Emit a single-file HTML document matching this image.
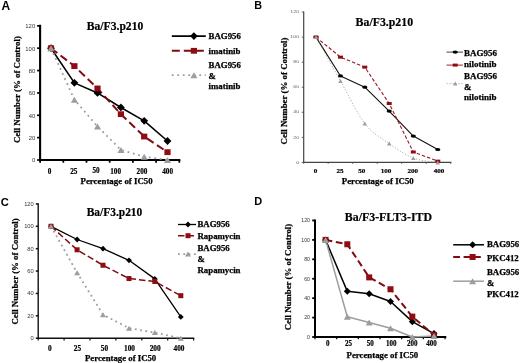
<!DOCTYPE html>
<html><head><meta charset="utf-8"><style>
html,body{margin:0;padding:0;background:#fff;width:520px;height:363px;overflow:hidden}
svg{display:block;filter:blur(0.35px)}
</style></head><body>
<svg width="520" height="363" viewBox="0 0 520 363">
<rect width="520" height="363" fill="#fff"/>
<path d="M40.1 25.84V160H179.3" fill="none" stroke="#000" stroke-width="2.1" stroke-linecap="square"/>
<path d="M37.1 160H40.1" stroke="#000" stroke-width="1.7"/>
<path d="M37.1 137.64H40.1" stroke="#000" stroke-width="1.7"/>
<path d="M37.1 115.28H40.1" stroke="#000" stroke-width="1.7"/>
<path d="M37.1 92.92H40.1" stroke="#000" stroke-width="1.7"/>
<path d="M37.1 70.56H40.1" stroke="#000" stroke-width="1.7"/>
<path d="M37.1 48.2H40.1" stroke="#000" stroke-width="1.7"/>
<path d="M37.1 25.84H40.1" stroke="#000" stroke-width="1.7"/>
<path d="M40.1 160V162.7" stroke="#000" stroke-width="1.8"/>
<path d="M63.3 160V162.7" stroke="#000" stroke-width="1.8"/>
<path d="M86.5 160V162.7" stroke="#000" stroke-width="1.8"/>
<path d="M109.7 160V162.7" stroke="#000" stroke-width="1.8"/>
<path d="M132.9 160V162.7" stroke="#000" stroke-width="1.8"/>
<path d="M156.1 160V162.7" stroke="#000" stroke-width="1.8"/>
<path d="M179.3 160V162.7" stroke="#000" stroke-width="1.8"/>
<text x="35.2" y="162.3" text-anchor="end" font-family="'Liberation Sans', sans-serif" font-size="5.9" fill="#333">0</text>
<text x="35.2" y="139.94" text-anchor="end" font-family="'Liberation Sans', sans-serif" font-size="5.9" fill="#333">20</text>
<text x="35.2" y="117.58" text-anchor="end" font-family="'Liberation Sans', sans-serif" font-size="5.9" fill="#333">40</text>
<text x="35.2" y="95.22" text-anchor="end" font-family="'Liberation Sans', sans-serif" font-size="5.9" fill="#333">60</text>
<text x="35.2" y="72.86" text-anchor="end" font-family="'Liberation Sans', sans-serif" font-size="5.9" fill="#333">80</text>
<text x="35.2" y="50.5" text-anchor="end" font-family="'Liberation Sans', sans-serif" font-size="5.9" fill="#333">100</text>
<text x="35.2" y="28.14" text-anchor="end" font-family="'Liberation Sans', sans-serif" font-size="5.9" fill="#333">120</text>
<text x="49.6" y="173.7" text-anchor="middle" font-family="'Liberation Serif', serif" font-weight="bold" font-size="7.6" stroke="#000" stroke-width="0.2" textLength="3.6" lengthAdjust="spacingAndGlyphs">0</text>
<text x="73.8" y="173.9" text-anchor="middle" font-family="'Liberation Serif', serif" font-weight="bold" font-size="7.6" stroke="#000" stroke-width="0.2" textLength="7.2" lengthAdjust="spacingAndGlyphs">25</text>
<text x="96" y="172.8" text-anchor="middle" font-family="'Liberation Serif', serif" font-weight="bold" font-size="7.6" stroke="#000" stroke-width="0.2" textLength="7.2" lengthAdjust="spacingAndGlyphs">50</text>
<text x="115.6" y="173.7" text-anchor="middle" font-family="'Liberation Serif', serif" font-weight="bold" font-size="7.6" stroke="#000" stroke-width="0.2" textLength="10.8" lengthAdjust="spacingAndGlyphs">100</text>
<text x="142" y="173.7" text-anchor="middle" font-family="'Liberation Serif', serif" font-weight="bold" font-size="7.6" stroke="#000" stroke-width="0.2" textLength="10.8" lengthAdjust="spacingAndGlyphs">200</text>
<text x="167.6" y="173.7" text-anchor="middle" font-family="'Liberation Serif', serif" font-weight="bold" font-size="7.6" stroke="#000" stroke-width="0.2" textLength="10.8" lengthAdjust="spacingAndGlyphs">400</text>
<path d="M51 48.2 L74.4 82.86 L97.5 92.92 L120.9 107.45 L144.2 120.87 L167.5 140.99" fill="none" stroke="#000" stroke-width="1.6" stroke-linecap="butt" stroke-linejoin="round"/>
<path d="M51 48.2 L74.4 66.09 L97.5 88.45 L120.9 114.16 L144.2 136.52 L167.5 152.17" fill="none" stroke="#7e0c12" stroke-width="2" stroke-dasharray="8 4" stroke-linecap="butt" stroke-linejoin="round"/>
<path d="M51 48.2 L74.4 99.63 L97.5 126.46 L120.9 149.94 L144.2 156.65 L167.5 160" fill="none" stroke="#9d9d9d" stroke-width="1.8" stroke-dasharray="1.8 3.7" stroke-linecap="butt" stroke-linejoin="round"/>
<path d="M51 44.3L54.9 48.2L51 52.1L47.1 48.2Z" fill="#000"/>
<path d="M74.4 78.96L78.3 82.86L74.4 86.76L70.5 82.86Z" fill="#000"/>
<path d="M97.5 89.02L101.4 92.92L97.5 96.82L93.6 92.92Z" fill="#000"/>
<path d="M120.9 103.55L124.8 107.45L120.9 111.35L117 107.45Z" fill="#000"/>
<path d="M144.2 116.97L148.1 120.87L144.2 124.77L140.3 120.87Z" fill="#000"/>
<path d="M167.5 137.09L171.4 140.99L167.5 144.89L163.6 140.99Z" fill="#000"/>
<rect x="47.9" y="45.3" width="6.2" height="5.8" fill="#8e0c12"/>
<rect x="71.3" y="63.19" width="6.2" height="5.8" fill="#8e0c12"/>
<rect x="94.4" y="85.55" width="6.2" height="5.8" fill="#8e0c12"/>
<rect x="117.8" y="111.26" width="6.2" height="5.8" fill="#8e0c12"/>
<rect x="141.1" y="133.62" width="6.2" height="5.8" fill="#8e0c12"/>
<rect x="164.4" y="149.27" width="6.2" height="5.8" fill="#8e0c12"/>
<path d="M51 45.2L54.5 51.2L47.5 51.2Z" fill="#9d9d9d"/>
<path d="M74.4 96.63L77.9 102.63L70.9 102.63Z" fill="#9d9d9d"/>
<path d="M97.5 123.46L101 129.46L94 129.46Z" fill="#9d9d9d"/>
<path d="M120.9 146.94L124.4 152.94L117.4 152.94Z" fill="#9d9d9d"/>
<path d="M144.2 153.65L147.7 159.65L140.7 159.65Z" fill="#9d9d9d"/>
<path d="M167.5 157L171 163L164 163Z" fill="#9d9d9d"/>
<text x="86.8" y="30.3" font-family="'Liberation Serif', serif" font-weight="bold" font-size="11.6" stroke="#000" stroke-width="0.2" textLength="56.5" lengthAdjust="spacingAndGlyphs">Ba/F3.p210</text>
<text transform="translate(20.4 89.6) rotate(-90)" x="0" y="0" text-anchor="middle" font-family="'Liberation Serif', serif" font-weight="bold" font-size="8.9" stroke="#000" stroke-width="0.25" textLength="107" lengthAdjust="spacingAndGlyphs">Cell Number (% of Control)</text>
<text x="80.5" y="183.8" font-family="'Liberation Serif', serif" font-weight="bold" font-size="8.9" stroke="#000" stroke-width="0.25" textLength="72.2" lengthAdjust="spacingAndGlyphs">Percentage of IC50</text>
<path d="M171.8 36.1H205.8" stroke="#000" stroke-width="1.6"/>
<path d="M193.9 32.2L197.8 36.1L193.9 40L190 36.1Z" fill="#000"/>
<path d="M171.8 50.8H205.8" stroke="#7e0c12" stroke-width="2" stroke-dasharray="8 4"/>
<rect x="190.8" y="47.9" width="6.2" height="5.8" fill="#8e0c12"/>
<path d="M171.8 75.2H205.8" stroke="#9d9d9d" stroke-width="1.8" stroke-dasharray="1.8 3.7"/>
<path d="M193.9 72.2L197.4 78.2L190.4 78.2Z" fill="#9d9d9d"/>
<text x="208.6" y="39.4" font-family="'Liberation Serif', serif" font-weight="bold" font-size="8.8" stroke="#000" stroke-width="0.25">BAG956</text>
<text x="208.6" y="53.7" font-family="'Liberation Serif', serif" font-weight="bold" font-size="8.8" stroke="#000" stroke-width="0.25">imatinib</text>
<text x="208.6" y="68.3" font-family="'Liberation Serif', serif" font-weight="bold" font-size="8.8" stroke="#000" stroke-width="0.25">BAG956</text>
<text x="208.6" y="78.8" font-family="'Liberation Serif', serif" font-weight="bold" font-size="8.8" stroke="#000" stroke-width="0.25">&amp;</text>
<text x="208.6" y="88.6" font-family="'Liberation Serif', serif" font-weight="bold" font-size="8.8" stroke="#000" stroke-width="0.25">imatinib</text>
<text x="1.6" y="9.6" font-family="'Liberation Sans', sans-serif" font-weight="bold" font-size="12">A</text>
<path d="M303.7 12.04V162.4H450.8" fill="none" stroke="#444" stroke-width="1.2" stroke-linecap="square"/>
<path d="M301.7 162.4H303.7" stroke="#444" stroke-width="0.8"/>
<path d="M301.7 137.34H303.7" stroke="#444" stroke-width="0.8"/>
<path d="M301.7 112.28H303.7" stroke="#444" stroke-width="0.8"/>
<path d="M301.7 87.22H303.7" stroke="#444" stroke-width="0.8"/>
<path d="M301.7 62.16H303.7" stroke="#444" stroke-width="0.8"/>
<path d="M301.7 37.1H303.7" stroke="#444" stroke-width="0.8"/>
<path d="M301.7 12.04H303.7" stroke="#444" stroke-width="0.8"/>
<path d="M303.7 162.4V163.9" stroke="#444" stroke-width="0.8"/>
<path d="M328.2 162.4V163.9" stroke="#444" stroke-width="0.8"/>
<path d="M352.7 162.4V163.9" stroke="#444" stroke-width="0.8"/>
<path d="M377.2 162.4V163.9" stroke="#444" stroke-width="0.8"/>
<path d="M401.7 162.4V163.9" stroke="#444" stroke-width="0.8"/>
<path d="M426.2 162.4V163.9" stroke="#444" stroke-width="0.8"/>
<path d="M450.7 162.4V163.9" stroke="#444" stroke-width="0.8"/>
<text x="299.2" y="163.6" text-anchor="end" font-family="'Liberation Sans', sans-serif" font-size="3.4" fill="#666" textLength="2.95" lengthAdjust="spacingAndGlyphs">0</text>
<text x="299.2" y="138.54" text-anchor="end" font-family="'Liberation Sans', sans-serif" font-size="3.4" fill="#666" textLength="5.9" lengthAdjust="spacingAndGlyphs">20</text>
<text x="299.2" y="113.48" text-anchor="end" font-family="'Liberation Sans', sans-serif" font-size="3.4" fill="#666" textLength="5.9" lengthAdjust="spacingAndGlyphs">40</text>
<text x="299.2" y="88.42" text-anchor="end" font-family="'Liberation Sans', sans-serif" font-size="3.4" fill="#666" textLength="5.9" lengthAdjust="spacingAndGlyphs">60</text>
<text x="299.2" y="63.36" text-anchor="end" font-family="'Liberation Sans', sans-serif" font-size="3.4" fill="#666" textLength="5.9" lengthAdjust="spacingAndGlyphs">80</text>
<text x="299.2" y="38.3" text-anchor="end" font-family="'Liberation Sans', sans-serif" font-size="3.4" fill="#666" textLength="8.85" lengthAdjust="spacingAndGlyphs">100</text>
<text x="299.2" y="13.24" text-anchor="end" font-family="'Liberation Sans', sans-serif" font-size="3.4" fill="#666" textLength="8.85" lengthAdjust="spacingAndGlyphs">120</text>
<text x="315.6" y="172.5" text-anchor="middle" font-family="'Liberation Serif', serif" font-weight="bold" font-size="7.0" stroke="#000" stroke-width="0.2" textLength="3.55" lengthAdjust="spacingAndGlyphs">0</text>
<text x="340" y="172.5" text-anchor="middle" font-family="'Liberation Serif', serif" font-weight="bold" font-size="7.0" stroke="#000" stroke-width="0.2" textLength="7.1" lengthAdjust="spacingAndGlyphs">25</text>
<text x="361.8" y="172.5" text-anchor="middle" font-family="'Liberation Serif', serif" font-weight="bold" font-size="7.0" stroke="#000" stroke-width="0.2" textLength="7.1" lengthAdjust="spacingAndGlyphs">50</text>
<text x="386.1" y="172.5" text-anchor="middle" font-family="'Liberation Serif', serif" font-weight="bold" font-size="7.0" stroke="#000" stroke-width="0.2" textLength="10.65" lengthAdjust="spacingAndGlyphs">100</text>
<text x="412.8" y="172.5" text-anchor="middle" font-family="'Liberation Serif', serif" font-weight="bold" font-size="7.0" stroke="#000" stroke-width="0.2" textLength="10.65" lengthAdjust="spacingAndGlyphs">200</text>
<text x="439.1" y="172.5" text-anchor="middle" font-family="'Liberation Serif', serif" font-weight="bold" font-size="7.0" stroke="#000" stroke-width="0.2" textLength="10.65" lengthAdjust="spacingAndGlyphs">400</text>
<path d="M316 37.1 L340.5 75.94 L364.8 87.22 L389.2 111.03 L413.3 136.09 L437.8 149.49" fill="none" stroke="#111" stroke-width="1.1" stroke-linecap="butt" stroke-linejoin="round"/>
<path d="M316 37.1 L340.5 57.15 L364.8 67.17 L389.2 103.51 L413.3 152 L437.8 161.15" fill="none" stroke="#9a1820" stroke-width="1.1" stroke-dasharray="3.5 2" stroke-linecap="butt" stroke-linejoin="round"/>
<path d="M316 37.1 C320.08 44.41 332.37 66.55 340.5 80.96 C348.63 95.36 356.68 113.12 364.8 123.56 C372.92 134 381.12 137.86 389.2 143.61 C397.28 149.35 405.2 154.88 413.3 158.01 C421.4 161.15 433.72 161.67 437.8 162.4" fill="none" stroke="#9d9d9d" stroke-width="1" stroke-dasharray="1 2" stroke-linecap="butt" stroke-linejoin="round"/>
<ellipse cx="316" cy="37.1" rx="2.6" ry="1.6" fill="#000"/>
<ellipse cx="340.5" cy="75.94" rx="2.6" ry="1.6" fill="#000"/>
<ellipse cx="364.8" cy="87.22" rx="2.6" ry="1.6" fill="#000"/>
<ellipse cx="389.2" cy="111.03" rx="2.6" ry="1.6" fill="#000"/>
<ellipse cx="413.3" cy="136.09" rx="2.6" ry="1.6" fill="#000"/>
<ellipse cx="437.8" cy="149.49" rx="2.6" ry="1.6" fill="#000"/>
<rect x="313.5" y="35.6" width="5" height="3" fill="#8e0c12"/>
<rect x="338" y="55.65" width="5" height="3" fill="#8e0c12"/>
<rect x="362.3" y="65.67" width="5" height="3" fill="#8e0c12"/>
<rect x="386.7" y="102.01" width="5" height="3" fill="#8e0c12"/>
<rect x="410.8" y="150.5" width="5" height="3" fill="#8e0c12"/>
<rect x="435.3" y="159.65" width="5" height="3" fill="#8e0c12"/>
<path d="M316 35.1L318.25 39.1L313.75 39.1Z" fill="#9d9d9d"/>
<path d="M340.5 78.96L342.75 82.96L338.25 82.96Z" fill="#9d9d9d"/>
<path d="M364.8 121.56L367.05 125.56L362.55 125.56Z" fill="#9d9d9d"/>
<path d="M389.2 141.61L391.45 145.61L386.95 145.61Z" fill="#9d9d9d"/>
<path d="M413.3 156.01L415.55 160.01L411.05 160.01Z" fill="#9d9d9d"/>
<path d="M437.8 160.4L440.05 164.4L435.55 164.4Z" fill="#9d9d9d"/>
<text x="355.6" y="26" font-family="'Liberation Serif', serif" font-weight="bold" font-size="12.2" stroke="#000" stroke-width="0.2" textLength="57.5" lengthAdjust="spacingAndGlyphs">Ba/F3.p210</text>
<text transform="translate(286.9 91) rotate(-90)" x="0" y="0" text-anchor="middle" font-family="'Liberation Serif', serif" font-weight="bold" font-size="8.9" stroke="#000" stroke-width="0.25" textLength="107" lengthAdjust="spacingAndGlyphs">Cell Number (% of Control)</text>
<text x="341.8" y="183.8" font-family="'Liberation Serif', serif" font-weight="bold" font-size="8.9" stroke="#000" stroke-width="0.25" textLength="72" lengthAdjust="spacingAndGlyphs">Percentage of IC50</text>
<path d="M446.5 52.1H463" stroke="#444" stroke-width="1"/>
<ellipse cx="455.2" cy="52.1" rx="2.6" ry="1.6" fill="#000"/>
<path d="M446.5 65.1H463" stroke="#a02030" stroke-width="1"/>
<rect x="452.7" y="63.6" width="5" height="3" fill="#8e0c12"/>
<path d="M446.5 83.6H463" stroke="#9d9d9d" stroke-width="1" stroke-dasharray="1 2"/>
<path d="M455.2 81.6L457.45 85.6L452.95 85.6Z" fill="#9d9d9d"/>
<text x="464" y="55.8" font-family="'Liberation Serif', serif" font-weight="bold" font-size="9" stroke="#000" stroke-width="0.25">BAG956</text>
<text x="464" y="66.9" font-family="'Liberation Serif', serif" font-weight="bold" font-size="9" stroke="#000" stroke-width="0.25">nilotinib</text>
<text x="464" y="78.9" font-family="'Liberation Serif', serif" font-weight="bold" font-size="9" stroke="#000" stroke-width="0.25">BAG956</text>
<text x="464" y="89.7" font-family="'Liberation Serif', serif" font-weight="bold" font-size="9" stroke="#000" stroke-width="0.25">&amp;</text>
<text x="464" y="99.6" font-family="'Liberation Serif', serif" font-weight="bold" font-size="9" stroke="#000" stroke-width="0.25">nilotinib</text>
<text x="254.2" y="8.5" font-family="'Liberation Sans', sans-serif" font-weight="bold" font-size="10.8">B</text>
<path d="M38.2 203.92V338.2H193.6" fill="none" stroke="#111" stroke-width="1.4" stroke-linecap="square"/>
<path d="M35.8 338.2H38.2" stroke="#111" stroke-width="1.5"/>
<path d="M35.8 315.82H38.2" stroke="#111" stroke-width="1.5"/>
<path d="M35.8 293.44H38.2" stroke="#111" stroke-width="1.5"/>
<path d="M35.8 271.06H38.2" stroke="#111" stroke-width="1.5"/>
<path d="M35.8 248.68H38.2" stroke="#111" stroke-width="1.5"/>
<path d="M35.8 226.3H38.2" stroke="#111" stroke-width="1.5"/>
<path d="M35.8 203.92H38.2" stroke="#111" stroke-width="1.5"/>
<path d="M38.2 338.2V340.4" stroke="#111" stroke-width="1.2"/>
<path d="M64.1 338.2V340.4" stroke="#111" stroke-width="1.2"/>
<path d="M90 338.2V340.4" stroke="#111" stroke-width="1.2"/>
<path d="M115.9 338.2V340.4" stroke="#111" stroke-width="1.2"/>
<path d="M141.8 338.2V340.4" stroke="#111" stroke-width="1.2"/>
<path d="M167.7 338.2V340.4" stroke="#111" stroke-width="1.2"/>
<path d="M193.6 338.2V340.4" stroke="#111" stroke-width="1.2"/>
<text x="33.7" y="340.2" text-anchor="end" font-family="'Liberation Sans', sans-serif" font-size="5.7" fill="#333">0</text>
<text x="33.7" y="317.82" text-anchor="end" font-family="'Liberation Sans', sans-serif" font-size="5.7" fill="#333">20</text>
<text x="33.7" y="295.44" text-anchor="end" font-family="'Liberation Sans', sans-serif" font-size="5.7" fill="#333">40</text>
<text x="33.7" y="273.06" text-anchor="end" font-family="'Liberation Sans', sans-serif" font-size="5.7" fill="#333">60</text>
<text x="33.7" y="250.68" text-anchor="end" font-family="'Liberation Sans', sans-serif" font-size="5.7" fill="#333">80</text>
<text x="33.7" y="228.3" text-anchor="end" font-family="'Liberation Sans', sans-serif" font-size="5.7" fill="#333">100</text>
<text x="33.7" y="205.92" text-anchor="end" font-family="'Liberation Sans', sans-serif" font-size="5.7" fill="#333">120</text>
<text x="49.8" y="350.6" text-anchor="middle" font-family="'Liberation Serif', serif" font-weight="bold" font-size="7.2" stroke="#000" stroke-width="0.2" textLength="3.65" lengthAdjust="spacingAndGlyphs">0</text>
<text x="77.5" y="350.6" text-anchor="middle" font-family="'Liberation Serif', serif" font-weight="bold" font-size="7.2" stroke="#000" stroke-width="0.2" textLength="7.3" lengthAdjust="spacingAndGlyphs">25</text>
<text x="104.5" y="350.6" text-anchor="middle" font-family="'Liberation Serif', serif" font-weight="bold" font-size="7.2" stroke="#000" stroke-width="0.2" textLength="7.3" lengthAdjust="spacingAndGlyphs">50</text>
<text x="129.5" y="350.6" text-anchor="middle" font-family="'Liberation Serif', serif" font-weight="bold" font-size="7.2" stroke="#000" stroke-width="0.2" textLength="10.95" lengthAdjust="spacingAndGlyphs">100</text>
<text x="155.2" y="350.6" text-anchor="middle" font-family="'Liberation Serif', serif" font-weight="bold" font-size="7.2" stroke="#000" stroke-width="0.2" textLength="10.95" lengthAdjust="spacingAndGlyphs">200</text>
<text x="179" y="350.6" text-anchor="middle" font-family="'Liberation Serif', serif" font-weight="bold" font-size="7.2" stroke="#000" stroke-width="0.2" textLength="10.95" lengthAdjust="spacingAndGlyphs">400</text>
<path d="M51 226.3 L77.1 239.5 L103 248.68 L129 260.32 L154.8 278.89 L180.8 316.94" fill="none" stroke="#000" stroke-width="1.3" stroke-linecap="butt" stroke-linejoin="round"/>
<path d="M51 226.3 L77.1 249.8 L103 265.24 L129 278.56 L154.8 281.47 L180.8 295.68" fill="none" stroke="#7e0c12" stroke-width="1.5" stroke-dasharray="6.5 3" stroke-linecap="butt" stroke-linejoin="round"/>
<path d="M51 226.3 L77.1 272.74 L103 314.7 L129 328.13 L154.8 332.6 L180.8 338.2" fill="none" stroke="#9d9d9d" stroke-width="1.8" stroke-dasharray="1.8 3.5" stroke-linecap="butt" stroke-linejoin="round"/>
<path d="M51 223.4L53.9 226.3L51 229.2L48.1 226.3Z" fill="#000"/>
<path d="M77.1 236.6L80 239.5L77.1 242.4L74.2 239.5Z" fill="#000"/>
<path d="M103 245.78L105.9 248.68L103 251.58L100.1 248.68Z" fill="#000"/>
<path d="M129 257.42L131.9 260.32L129 263.22L126.1 260.32Z" fill="#000"/>
<path d="M154.8 275.99L157.7 278.89L154.8 281.79L151.9 278.89Z" fill="#000"/>
<path d="M180.8 314.04L183.7 316.94L180.8 319.84L177.9 316.94Z" fill="#000"/>
<rect x="48.5" y="223.8" width="5" height="5" fill="#8e0c12"/>
<rect x="74.6" y="247.3" width="5" height="5" fill="#8e0c12"/>
<rect x="100.5" y="262.74" width="5" height="5" fill="#8e0c12"/>
<rect x="126.5" y="276.06" width="5" height="5" fill="#8e0c12"/>
<rect x="152.3" y="278.97" width="5" height="5" fill="#8e0c12"/>
<rect x="178.3" y="293.18" width="5" height="5" fill="#8e0c12"/>
<path d="M51 223.8L54 228.8L48 228.8Z" fill="#9d9d9d"/>
<path d="M77.1 270.24L80.1 275.24L74.1 275.24Z" fill="#9d9d9d"/>
<path d="M103 312.2L106 317.2L100 317.2Z" fill="#9d9d9d"/>
<path d="M129 325.63L132 330.63L126 330.63Z" fill="#9d9d9d"/>
<path d="M154.8 330.1L157.8 335.1L151.8 335.1Z" fill="#9d9d9d"/>
<path d="M180.8 335.7L183.8 340.7L177.8 340.7Z" fill="#9d9d9d"/>
<text x="86.7" y="215.8" font-family="'Liberation Serif', serif" font-weight="bold" font-size="11.8" stroke="#000" stroke-width="0.2" textLength="55.6" lengthAdjust="spacingAndGlyphs">Ba/F3.p210</text>
<text transform="translate(18.3 271.4) rotate(-90)" x="0" y="0" text-anchor="middle" font-family="'Liberation Serif', serif" font-weight="bold" font-size="8.9" stroke="#000" stroke-width="0.25" textLength="106.3" lengthAdjust="spacingAndGlyphs">Cell Number (% of Control)</text>
<text x="85" y="361" font-family="'Liberation Serif', serif" font-weight="bold" font-size="9" stroke="#000" stroke-width="0.25" textLength="71.2" lengthAdjust="spacingAndGlyphs">Percentage of IC50</text>
<path d="M178 224.5H196" stroke="#000" stroke-width="1.3"/>
<path d="M188 221.6L190.9 224.5L188 227.4L185.1 224.5Z" fill="#000"/>
<path d="M178 235.7H196" stroke="#7e0c12" stroke-width="1.5" stroke-dasharray="6.5 3"/>
<rect x="185.5" y="233.2" width="5" height="5" fill="#8e0c12"/>
<path d="M178 254.1H196" stroke="#9d9d9d" stroke-width="1.8" stroke-dasharray="1.8 3.5"/>
<path d="M188 251.6L191 256.6L185 256.6Z" fill="#9d9d9d"/>
<text x="197.5" y="227.4" font-family="'Liberation Serif', serif" font-weight="bold" font-size="8.8" stroke="#000" stroke-width="0.25">BAG956</text>
<text x="197.5" y="239.1" font-family="'Liberation Serif', serif" font-weight="bold" font-size="8.8" stroke="#000" stroke-width="0.25">Rapamycin</text>
<text x="197.5" y="251.1" font-family="'Liberation Serif', serif" font-weight="bold" font-size="8.8" stroke="#000" stroke-width="0.25">BAG956</text>
<text x="197.5" y="262.1" font-family="'Liberation Serif', serif" font-weight="bold" font-size="8.8" stroke="#000" stroke-width="0.25">&amp;</text>
<text x="197.5" y="272.7" font-family="'Liberation Serif', serif" font-weight="bold" font-size="8.8" stroke="#000" stroke-width="0.25">Rapamycin</text>
<text x="0.8" y="205.6" font-family="'Liberation Sans', sans-serif" font-weight="bold" font-size="11.2">C</text>
<path d="M315 220.48V337H445.3" fill="none" stroke="#000" stroke-width="2" stroke-linecap="square"/>
<path d="M312.2 337H315" stroke="#000" stroke-width="1.8"/>
<path d="M312.2 317.58H315" stroke="#000" stroke-width="1.8"/>
<path d="M312.2 298.16H315" stroke="#000" stroke-width="1.8"/>
<path d="M312.2 278.74H315" stroke="#000" stroke-width="1.8"/>
<path d="M312.2 259.32H315" stroke="#000" stroke-width="1.8"/>
<path d="M312.2 239.9H315" stroke="#000" stroke-width="1.8"/>
<path d="M312.2 220.48H315" stroke="#000" stroke-width="1.8"/>
<path d="M315 337V339.2" stroke="#000" stroke-width="1.2"/>
<path d="M336.67 337V339.2" stroke="#000" stroke-width="1.2"/>
<path d="M358.34 337V339.2" stroke="#000" stroke-width="1.2"/>
<path d="M380.01 337V339.2" stroke="#000" stroke-width="1.2"/>
<path d="M401.68 337V339.2" stroke="#000" stroke-width="1.2"/>
<path d="M423.35 337V339.2" stroke="#000" stroke-width="1.2"/>
<path d="M445.02 337V339.2" stroke="#000" stroke-width="1.2"/>
<text x="310" y="338.9" text-anchor="end" font-family="'Liberation Sans', sans-serif" font-size="5.2" fill="#333">0</text>
<text x="310" y="319.48" text-anchor="end" font-family="'Liberation Sans', sans-serif" font-size="5.2" fill="#333">20</text>
<text x="310" y="300.06" text-anchor="end" font-family="'Liberation Sans', sans-serif" font-size="5.2" fill="#333">40</text>
<text x="310" y="280.64" text-anchor="end" font-family="'Liberation Sans', sans-serif" font-size="5.2" fill="#333">60</text>
<text x="310" y="261.22" text-anchor="end" font-family="'Liberation Sans', sans-serif" font-size="5.2" fill="#333">80</text>
<text x="310" y="241.8" text-anchor="end" font-family="'Liberation Sans', sans-serif" font-size="5.2" fill="#333">100</text>
<text x="310" y="222.38" text-anchor="end" font-family="'Liberation Sans', sans-serif" font-size="5.2" fill="#333">120</text>
<text x="327.8" y="346" text-anchor="middle" font-family="'Liberation Serif', serif" font-weight="bold" font-size="7.2" stroke="#000" stroke-width="0.2" textLength="3.5" lengthAdjust="spacingAndGlyphs">0</text>
<text x="348.4" y="346" text-anchor="middle" font-family="'Liberation Serif', serif" font-weight="bold" font-size="7.2" stroke="#000" stroke-width="0.2" textLength="7" lengthAdjust="spacingAndGlyphs">25</text>
<text x="370.2" y="346" text-anchor="middle" font-family="'Liberation Serif', serif" font-weight="bold" font-size="7.2" stroke="#000" stroke-width="0.2" textLength="7" lengthAdjust="spacingAndGlyphs">50</text>
<text x="391.2" y="346" text-anchor="middle" font-family="'Liberation Serif', serif" font-weight="bold" font-size="7.2" stroke="#000" stroke-width="0.2" textLength="10.5" lengthAdjust="spacingAndGlyphs">100</text>
<text x="412.3" y="346" text-anchor="middle" font-family="'Liberation Serif', serif" font-weight="bold" font-size="7.2" stroke="#000" stroke-width="0.2" textLength="10.5" lengthAdjust="spacingAndGlyphs">200</text>
<text x="431.4" y="346" text-anchor="middle" font-family="'Liberation Serif', serif" font-weight="bold" font-size="7.2" stroke="#000" stroke-width="0.2" textLength="10.5" lengthAdjust="spacingAndGlyphs">400</text>
<path d="M325.6 239.9 L347.3 291.36 L369.2 293.79 L390.5 301.56 L412.3 321.66 L434 333.6" fill="none" stroke="#000" stroke-width="1.5" stroke-linecap="butt" stroke-linejoin="round"/>
<path d="M325.6 239.9 L347.3 244.27 L369.2 277.38 L390.5 289.23 L412.3 316.61 L434 335.06" fill="none" stroke="#7e0c12" stroke-width="2" stroke-dasharray="6.8 3.6" stroke-linecap="butt" stroke-linejoin="round"/>
<path d="M325.6 239.9 L347.3 316.8 L369.2 322.44 L390.5 328.26 L412.3 337 L434 336.03" fill="none" stroke="#9d9d9d" stroke-width="1.5" stroke-linecap="butt" stroke-linejoin="round"/>
<path d="M325.6 236.4L329.1 239.9L325.6 243.4L322.1 239.9Z" fill="#000"/>
<path d="M347.3 287.86L350.8 291.36L347.3 294.86L343.8 291.36Z" fill="#000"/>
<path d="M369.2 290.29L372.7 293.79L369.2 297.29L365.7 293.79Z" fill="#000"/>
<path d="M390.5 298.06L394 301.56L390.5 305.06L387 301.56Z" fill="#000"/>
<path d="M412.3 318.16L415.8 321.66L412.3 325.16L408.8 321.66Z" fill="#000"/>
<path d="M434 330.1L437.5 333.6L434 337.1L430.5 333.6Z" fill="#000"/>
<rect x="322.6" y="236.9" width="6" height="6" fill="#8e0c12"/>
<rect x="344.3" y="241.27" width="6" height="6" fill="#8e0c12"/>
<rect x="366.2" y="274.38" width="6" height="6" fill="#8e0c12"/>
<rect x="387.5" y="286.23" width="6" height="6" fill="#8e0c12"/>
<rect x="409.3" y="313.61" width="6" height="6" fill="#8e0c12"/>
<rect x="431" y="332.06" width="6" height="6" fill="#8e0c12"/>
<path d="M325.6 236.9L329.1 242.9L322.1 242.9Z" fill="#9d9d9d"/>
<path d="M347.3 313.8L350.8 319.8L343.8 319.8Z" fill="#9d9d9d"/>
<path d="M369.2 319.44L372.7 325.44L365.7 325.44Z" fill="#9d9d9d"/>
<path d="M390.5 325.26L394 331.26L387 331.26Z" fill="#9d9d9d"/>
<path d="M412.3 334L415.8 340L408.8 340Z" fill="#9d9d9d"/>
<path d="M434 333.03L437.5 339.03L430.5 339.03Z" fill="#9d9d9d"/>
<text x="344.8" y="220.8" font-family="'Liberation Serif', serif" font-weight="bold" font-size="11.8" stroke="#000" stroke-width="0.2" textLength="87.3" lengthAdjust="spacingAndGlyphs">Ba/F3-FLT3-ITD</text>
<text transform="translate(290.6 277) rotate(-90)" x="0" y="0" text-anchor="middle" font-family="'Liberation Serif', serif" font-weight="bold" font-size="8.9" stroke="#000" stroke-width="0.25" textLength="106.5" lengthAdjust="spacingAndGlyphs">Cell Number (% of Control)</text>
<text x="346.5" y="358.2" font-family="'Liberation Serif', serif" font-weight="bold" font-size="8.6" stroke="#000" stroke-width="0.25" textLength="71.7" lengthAdjust="spacingAndGlyphs">Percentage of IC50</text>
<path d="M453.2 244.8H484" stroke="#000" stroke-width="1.5"/>
<path d="M472.6 241.3L476.1 244.8L472.6 248.3L469.1 244.8Z" fill="#000"/>
<path d="M453.2 257H484" stroke="#7e0c12" stroke-width="2" stroke-dasharray="6.8 3.6"/>
<rect x="469.6" y="254" width="6" height="6" fill="#8e0c12"/>
<path d="M453.2 281.2H484" stroke="#9d9d9d" stroke-width="1.5"/>
<path d="M472.6 278.2L476.1 284.2L469.1 284.2Z" fill="#9d9d9d"/>
<text x="487" y="246.7" font-family="'Liberation Serif', serif" font-weight="bold" font-size="8.8" stroke="#000" stroke-width="0.25">BAG956</text>
<text x="487" y="261" font-family="'Liberation Serif', serif" font-weight="bold" font-size="8.8" stroke="#000" stroke-width="0.25">PKC412</text>
<text x="487" y="275.3" font-family="'Liberation Serif', serif" font-weight="bold" font-size="8.8" stroke="#000" stroke-width="0.25">BAG956</text>
<text x="487" y="285.7" font-family="'Liberation Serif', serif" font-weight="bold" font-size="8.8" stroke="#000" stroke-width="0.25">&amp;</text>
<text x="487" y="296.7" font-family="'Liberation Serif', serif" font-weight="bold" font-size="8.8" stroke="#000" stroke-width="0.25">PKC412</text>
<text x="254.2" y="205.2" font-family="'Liberation Sans', sans-serif" font-weight="bold" font-size="11">D</text>
</svg>
</body></html>
